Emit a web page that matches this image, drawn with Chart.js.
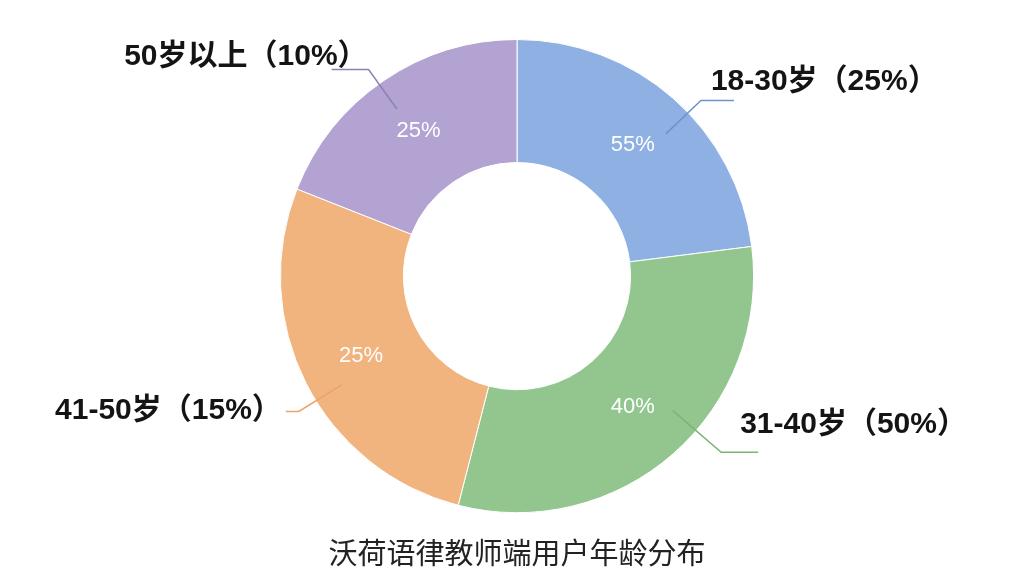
<!DOCTYPE html>
<html>

<head>
    <title>沃荷语律教师端用户年龄分布</title>
    <script src="https://cdn.jsdelivr.net/npm/chart.js"></script>
    <style>
        body { margin: 0; background: #ffffff; }
        #wrap { width: 1024px; height: 576px; }
    </style>
</head>

<body>
    <div id="wrap"><canvas id="myChart" width="1024" height="576"></canvas></div>

    <script>
        // datos
        const ageGroups = ["18-30岁", "31-40岁", "41-50岁", "50岁以上"];
        const shareValues = [23, 31, 27, 19];
        const outerTexts = ["18-30岁（25%）", "31-40岁（50%）", "41-50岁（15%）", "50岁以上（10%）"];
        const innerTexts = ["55%", "40%", "25%", "25%"];

        const sliceColors = ["#8eb0e2", "#93c68f", "#f1b47f", "#b3a3d3"];
        const lineColors = ["#6d93cf", "#76b676", "#e9a36c", "#8f80b4"];

        // ajustes de las etiquetas externas (angulo en grados, radio del codo, largo de la linea, desplazamiento del texto)
        const labelLayout = [
            { nudge: 4.9, r2: 1.075, hLen: 33, dx: -23, dy: -19 },
            { nudge: -7.8, r2: 1.14, hLen: 37, dx: -18, dy: -28 },
            { nudge: -4.8, r2: 1.085, hLen: -13, dx: -4, dy: -1 },
            { nudge: -1.5, r2: 1.075, hLen: -37, dx: 36, dy: -13 }
        ];

        const labelPlugin = {
            id: "sliceLabels",
            afterDatasetsDraw(chart) {
                const ctx = chart.ctx;
                const arcs = chart.getDatasetMeta(0).data;
                ctx.save();
                arcs.forEach((arc, i) => {
                    const p = arc.getProps(["x", "y", "startAngle", "endAngle", "innerRadius", "outerRadius"], true);
                    const mid = (p.startAngle + p.endAngle) / 2;
                    const midR = (p.innerRadius + p.outerRadius) / 2;

                    // texto interior
                    ctx.fillStyle = "#ffffff";
                    ctx.font = "22px 'Liberation Sans', Arial, sans-serif";
                    ctx.textAlign = "center";
                    ctx.textBaseline = "middle";
                    ctx.fillText(innerTexts[i], p.x + Math.cos(mid) * midR, p.y + Math.sin(mid) * midR);

                    // linea guia
                    const lay = labelLayout[i];
                    const a = mid + lay.nudge * Math.PI / 180;
                    const r1 = p.outerRadius * 0.87;
                    const r2 = p.outerRadius * lay.r2;
                    const x1 = p.x + Math.cos(a) * r1, y1 = p.y + Math.sin(a) * r1;
                    const x2 = p.x + Math.cos(a) * r2, y2 = p.y + Math.sin(a) * r2;
                    const x3 = x2 + lay.hLen;
                    ctx.strokeStyle = lineColors[i];
                    ctx.lineWidth = 1.5;
                    ctx.beginPath();
                    ctx.moveTo(x1, y1);
                    ctx.lineTo(x2, y2);
                    ctx.lineTo(x3, y2);
                    ctx.stroke();

                    // texto exterior
                    ctx.fillStyle = "#141414";
                    ctx.font = "bold 30px 'Liberation Sans', 'Noto Sans CJK SC', sans-serif";
                    ctx.textAlign = lay.hLen > 0 ? "left" : "right";
                    ctx.fillText(outerTexts[i], x3 + lay.dx, y2 + lay.dy);
                });
                ctx.restore();
            }
        };

        const ctx = document.getElementById("myChart").getContext("2d");
        new Chart(ctx, {
            type: "doughnut",
            data: {
                labels: ageGroups,
                datasets: [{
                    data: shareValues,
                    backgroundColor: sliceColors,
                    borderColor: "#ffffff",
                    borderWidth: 1
                }]
            },
            options: {
                responsive: false,
                animation: false,
                cutout: "48%",
                layout: { padding: { top: 39, bottom: 0, left: 10, right: 0 } },
                plugins: {
                    legend: { display: false },
                    tooltip: { enabled: false },
                    title: {
                        display: true,
                        position: "bottom",
                        text: "沃荷语律教师端用户年龄分布",
                        color: "#222222",
                        font: { size: 29, weight: "normal", family: "'Noto Sans CJK SC', sans-serif" },
                        padding: { top: 22, bottom: 6 }
                    }
                }
            },
            plugins: [labelPlugin]
        });
    </script>
</body>

</html>
